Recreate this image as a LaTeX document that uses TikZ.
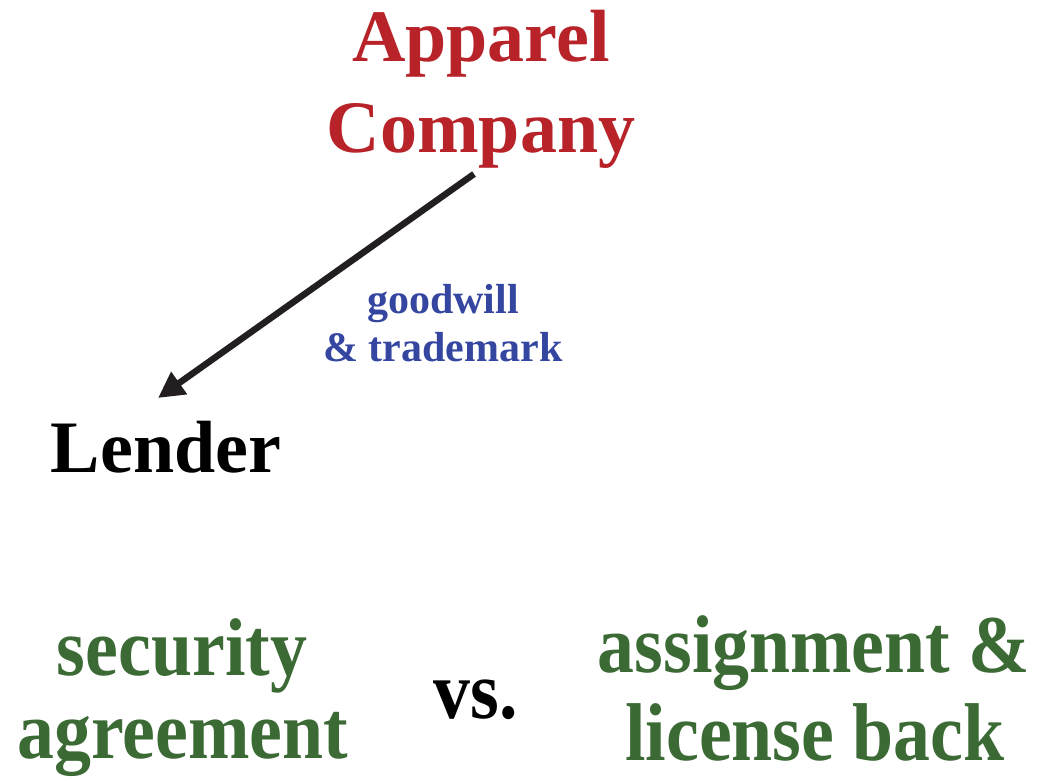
\documentclass[tikz,border=0pt]{standalone}
\usepackage{fontspec}
\setmainfont{Liberation Serif}
\newfontfamily\condfont[FakeStretch=0.9]{Liberation Serif}
\usetikzlibrary{arrows.meta}
\definecolor{acred}{HTML}{B72329}
\definecolor{acblue}{HTML}{3446A0}
\definecolor{acgreen}{HTML}{3B6A35}
\definecolor{acblack}{HTML}{231F20}
\tikzset{
  big/.style={inner sep=0pt, align=center, font=\bfseries\fontsize{74}{92}\selectfont},
  small/.style={inner sep=0pt, align=center, font=\bfseries\fontsize{42}{48}\selectfont},
  cond/.style={inner sep=0pt, align=center, font=\condfont\bfseries\fontsize{82}{84}\selectfont},
  link/.style={line width=6.5pt, color=acblack, -{Triangle[length=26pt,width=26pt]}}
}
\begin{document}
\begin{tikzpicture}[x=1pt,y=-1pt]
\useasboundingbox (0,0) rectangle (1038,776);
\node[big, text=acred, anchor=base] (apparel) at (481,62) {Apparel};
\node[big, text=acred, anchor=base] (company) at (481,152) {Company};
\node[big, text=black, anchor=base] (lender) at (166,472) {Lender};
\node[small, text=acblue, anchor=base] (goodwill) at (443,313) {goodwill};
\node[small, text=acblue, anchor=base] (trademark) at (443,361) {\& trademark};
\node[cond, text=acgreen, anchor=base] (security) at (182,675) {security};
\node[cond, text=acgreen, anchor=base] (agreement) at (183,758) {agreement};
\node[cond, text=black, anchor=base] (vs) at (476,718) {vs.};
\node[cond, text=acgreen, anchor=base] (assignment) at (814,672) {assignment \&};
\node[cond, text=acgreen, anchor=base] (license) at (815,760) {license back};
\coordinate (from) at (474,174);
\coordinate (to) at (158,398);
\draw[link] (from) -- (to);
\end{tikzpicture}
\end{document}
